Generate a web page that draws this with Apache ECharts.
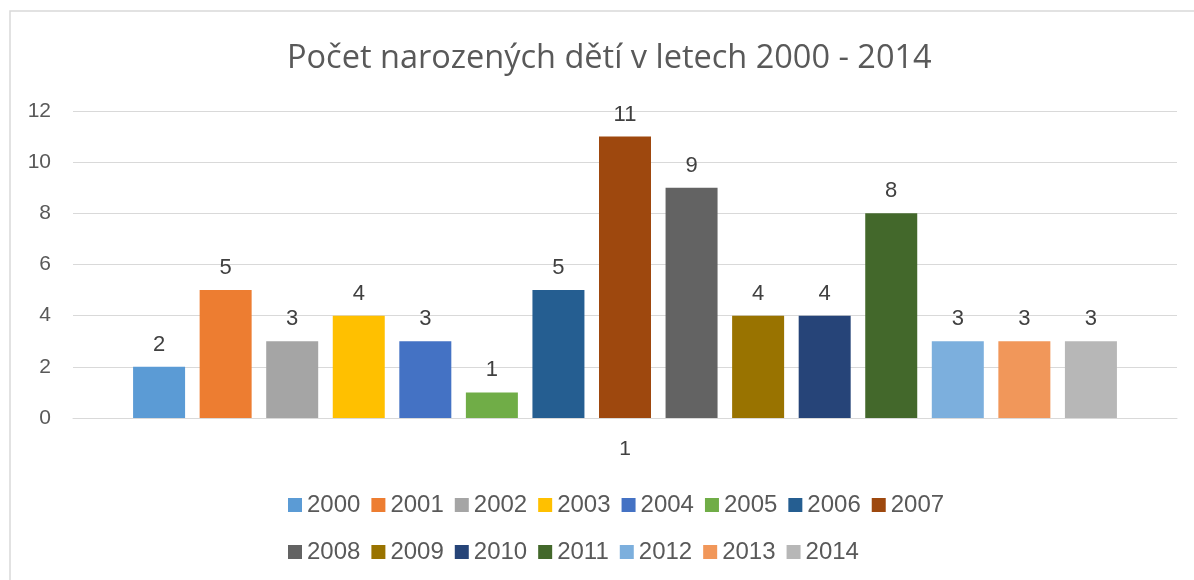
<!DOCTYPE html>
<html>
<head>
<meta charset="utf-8">
<script src="https://cdn.jsdelivr.net/npm/echarts@6/dist/echarts.min.js"></script>
<style>
  html, body { margin: 0; padding: 0; background: #fff; }
  #chart { width: 1194px; height: 580px; }
</style>
</head>
<body>
<div id="chart"></div>
<script>
// 数据
const categories = ['1']
const years = ['2000', '2001', '2002', '2003', '2004', '2005', '2006', '2007',
  '2008', '2009', '2010', '2011', '2012', '2013', '2014']
const births = [2, 5, 3, 4, 3, 1, 5, 11, 9, 4, 4, 8, 3, 3, 3]
const colors = ['#5B9BD5', '#ED7D31', '#A5A5A5', '#FFC000', '#4472C4', '#70AD47', '#255E91', '#9E480E',
  '#636363', '#997300', '#264478', '#43682B', '#7CAFDD', '#F1975A', '#B7B7B7']
const yTicks = { min: 0, max: 12, interval: 2 }

const chart = echarts.init(document.getElementById('chart'))

const option = {
  color: colors,
  animation: false,
  title: {
    text: 'Počet narozených dětí v letech 2000 - 2014',
    left: 287,
    top: 42,
    padding: 0,
    textStyle: {
      fontFamily: 'Open Sans',
      fontWeight: 'normal',
      fontSize: 32.5,
      color: '#595959',
    },
  },
  legend: {
    left: 283,
    top: 482,
    width: 700,
    itemWidth: 14,
    itemHeight: 14,
    itemGap: 11,
    icon: 'rect',
    textStyle: {
      fontFamily: 'Liberation Sans',
      fontSize: 24,
      color: '#595959',
      lineHeight: 36,
    },
    data: years,
  },
  grid: {
    left: 73,
    right: 17,
    top: 111,
    bottom: 162,
  },
  xAxis: {
    type: 'category',
    data: categories,
    axisLine: { lineStyle: { color: '#D9D9D9', width: 1 } },
    axisTick: { show: false },
    axisLabel: {
      margin: 21,
      fontFamily: 'Liberation Sans',
      fontSize: 21,
      color: '#404040',
    },
  },
  yAxis: {
    type: 'value',
    min: yTicks.min,
    max: yTicks.max,
    interval: yTicks.interval,
    axisLine: { show: false },
    axisTick: { show: false },
    splitLine: { lineStyle: { color: '#D9D9D9', width: 1 } },
    axisLabel: {
      margin: 22,
      fontFamily: 'Liberation Sans',
      fontSize: 21,
      color: '#595959',
    },
  },
  graphic: [
    {
      type: 'rect',
      shape: { x: 10, y: 11, width: 1300, height: 700 },
      style: { fill: 'none', stroke: '#D9D9D9', lineWidth: 1.5 },
      silent: true,
    },
  ],
  series: years.map((y, i) => ({
    name: y,
    type: 'bar',
    data: [births[i]],
    barWidth: 52,
    barGap: '28%',
    label: {
      show: true,
      position: 'top',
      distance: 11,
      fontFamily: 'Liberation Sans',
      fontSize: 22,
      color: '#404040',
    },
  })),
}

chart.setOption(option)
</script>
</body>
</html>
